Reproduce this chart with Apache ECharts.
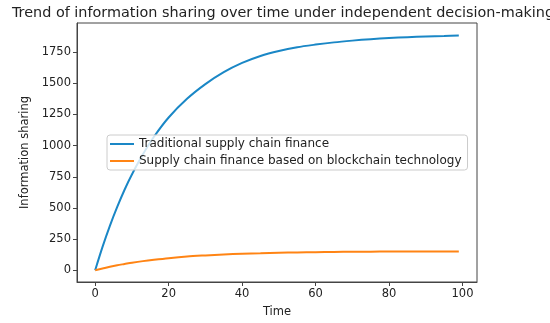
<!DOCTYPE html>
<html><head><meta charset="utf-8">
<script src="https://cdn.jsdelivr.net/npm/echarts@6/dist/echarts.min.js"></script>
<style>html,body{margin:0;padding:0;background:#fff}#c{width:550px;height:323px}</style>
</head><body><div id="c"></div>
<script>
const times = [0,2,4,6,8,10,13,16,20,25,30,35,40,45,50,55,60,65,70,75,80,85,90,95,99];
const traditional = [0,187,356,508,646,768,930,1071,1226,1376,1494,1590,1664,1720,1760,1790,1811,1829,1843,1855,1864,1871,1876,1880,1884];
const blockchain = [0,14,28,40,50,60,73,84,97,110,119,127,133,137,141,143,145,147,148,149,150,150,151,151,151];
const xTicks = [0,20,40,60,80,100];
const yTicks = [0,250,500,750,1000,1250,1500,1750];
const seriesNames = ['Traditional supply chain finance','Supply chain finance based on blockchain technology'];

const font = 'DejaVu Sans';
const chart = echarts.init(document.getElementById('c'), null, {renderer:'canvas'});
chart.setOption({
  animation:false,
  title:{text:'Trend of information sharing over time under independent decision-making',left:278,top:1,textAlign:'center',
    textStyle:{fontFamily:font,fontSize:14.4,fontWeight:'normal',color:'#222'}},
  grid:{left:77,right:73,top:23,bottom:39,show:true,borderColor:'#444',borderWidth:1,backgroundColor:'transparent'},
  legend:{orient:'vertical',left:107,top:135,itemWidth:24,itemHeight:2,itemGap:5,
    backgroundColor:'rgba(255,255,255,0.8)',borderColor:'#ccc',borderWidth:1,borderRadius:3,padding:[3,6,3,3],
    textStyle:{fontFamily:font,fontSize:12,color:'#222'},
    icon:'rect',
    data:seriesNames},
  xAxis:{type:'value',min:-4.95,max:103.95,name:'Time',nameLocation:'middle',nameGap:24,
    nameTextStyle:{fontFamily:font,fontSize:11.5,color:'#222'},
    axisLine:{show:true,onZero:false,lineStyle:{color:'#444'}},
    axisTick:{show:true,length:4,inside:false,customValues:xTicks,lineStyle:{color:'#444'}},
    axisLabel:{customValues:xTicks,fontFamily:font,fontSize:11.5,color:'#222',margin:6,formatter:v=>String(v)},
    splitLine:{show:false}},
  yAxis:{type:'value',min:-94.5,max:1984.5,name:'Information sharing',nameLocation:'middle',nameGap:46,
    nameTextStyle:{fontFamily:font,fontSize:11.5,color:'#222'},
    axisLine:{show:true,onZero:false,lineStyle:{color:'#444'}},
    axisTick:{show:true,length:4,inside:false,customValues:yTicks,lineStyle:{color:'#444'}},
    axisLabel:{customValues:yTicks,fontFamily:font,fontSize:11.5,color:'#222',margin:6,formatter:v=>String(v)},
    splitLine:{show:false}},
  series:[
    {name:seriesNames[0],type:'line',data:times.map((t,i)=>[t,traditional[i]]),smooth:0.3,
      showSymbol:false,symbol:'none',lineStyle:{color:'#1a87c6',width:2},itemStyle:{color:'#1a87c6'},z:2},
    {name:seriesNames[1],type:'line',data:times.map((t,i)=>[t,blockchain[i]]),smooth:0.3,
      showSymbol:false,symbol:'none',lineStyle:{color:'#ff8414',width:2},itemStyle:{color:'#ff8414'},z:2}
  ]
});
</script></body></html>
